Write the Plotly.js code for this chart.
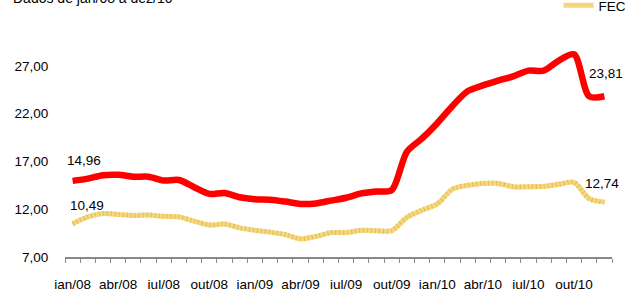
<!DOCTYPE html>
<html>
<head>
<meta charset="utf-8">
<script src="https://cdn.plot.ly/plotly-3.0.1.min.js"></script>
<style>
html,body{margin:0;padding:0;background:#fff;}
#chart{width:628px;height:289px;}
</style>
</head>
<body>
<div id="chart"></div>
<script>
// Month categories (jan/08 .. dez/10)
const months = [
  "jan/08","fev/08","mar/08","abr/08","mai/08","jun/08","jul/08","ago/08","set/08","out/08","nov/08","dez/08",
  "jan/09","fev/09","mar/09","abr/09","mai/09","jun/09","jul/09","ago/09","set/09","out/09","nov/09","dez/09",
  "jan/10","fev/10","mar/10","abr/10","mai/10","jun/10","jul/10","ago/10","set/10","out/10","nov/10","dez/10"
];
// DEC (red) values
const dec = [
  14.96, 15.20, 15.55, 15.60, 15.40, 15.40, 15.00, 15.05, 14.30, 13.60, 13.70, 13.25,
  13.05, 13.00, 12.80, 12.55, 12.60, 12.90, 13.20, 13.65, 13.85, 14.00, 18.00, 19.40,
  21.00, 22.80, 24.35, 24.95, 25.45, 25.90, 26.50, 26.50, 27.55, 28.20, 23.80, 23.81
];
// FEC (yellow) values
const fec = [
  10.49, 11.20, 11.55, 11.45, 11.35, 11.40, 11.25, 11.20, 10.75, 10.35, 10.45, 10.05,
  9.80, 9.60, 9.35, 8.90, 9.15, 9.55, 9.55, 9.80, 9.75, 9.75, 11.15, 11.90,
  12.55, 14.10, 14.50, 14.70, 14.70, 14.35, 14.35, 14.40, 14.60, 14.80, 13.10, 12.74
];
const yTicks = [7, 12, 17, 22, 27];
const subtitle = "Dados de jan/08 a dez/10";

const xIdx = months.map((m, i) => i);
const tickIdx = xIdx.filter(i => i % 3 === 0);
const tickText = tickIdx.map(i => months[i]);
const FONT = "Arial, 'Liberation Sans', sans-serif";
const fmt = v => v.toFixed(2).replace(".", ",");

const traces = [
  {
    x: xIdx, y: dec, name: "DEC", type: "scatter", mode: "lines",
    line: {color: "#ff0000", width: 6.5, shape: "spline", smoothing: 0.8},
    showlegend: false, hoverinfo: "skip"
  },
  {
    x: xIdx, y: fec, name: "FEC", type: "scatter", mode: "lines",
    line: {color: "rgb(245,215,125)", width: 5, shape: "spline", smoothing: 0.8},
    showlegend: true, legendgroup: "fec", hoverinfo: "skip"
  },
  {
    x: xIdx, y: fec, name: "FEC", type: "scatter", mode: "lines",
    line: {color: "rgb(230,188,80)", width: 5, shape: "spline", smoothing: 0.8, dash: "1px,3px"},
    showlegend: false, legendgroup: "fec", hoverinfo: "skip"
  }
];

const last = xIdx.length - 1;
const annotations = [
  {xref: "x", yref: "y", x: 0, y: dec[0], text: fmt(dec[0]), showarrow: false, xshift: 11, yshift: 20,
   font: {family: FONT, size: 13.5, color: "#000"}},
  {xref: "x", yref: "y", x: 0, y: fec[0], text: fmt(fec[0]), showarrow: false, xshift: 14, yshift: 18,
   font: {family: FONT, size: 13.5, color: "#000"}},
  {xref: "x", yref: "y", x: last, y: dec[last], text: fmt(dec[last]), showarrow: false, xshift: 2, yshift: 23,
   font: {family: FONT, size: 13.5, color: "#000"}},
  {xref: "x", yref: "y", x: last, y: fec[last], text: fmt(fec[last]), showarrow: false, xshift: -2, yshift: 19,
   font: {family: FONT, size: 13.5, color: "#000"}},
  {xref: "paper", yref: "paper", x: -0.0995, y: 1.085, xanchor: "left", yanchor: "middle",
   text: subtitle, showarrow: false, font: {family: FONT, size: 14, color: "#000"}}
];

const layout = {
  width: 628, height: 289,
  margin: {l: 65, r: 16, t: 18, b: 31.5, pad: 0, autoexpand: false},
  paper_bgcolor: "#fff", plot_bgcolor: "#fff",
  separators: ",.",
  font: {family: FONT, size: 13.5, color: "#000"},
  showlegend: true,
  legend: {xref: "container", yref: "container", x: 0.8895, y: 0.981, xanchor: "left", yanchor: "middle", orientation: "h",
           bgcolor: "rgba(0,0,0,0)", font: {family: FONT, size: 13.5, color: "#000"}},
  xaxis: {
    range: [-0.5, 35.5], tickmode: "array", tickvals: tickIdx, ticktext: tickText,
    ticks: "outside", ticklen: 14, tickcolor: "rgba(0,0,0,0)",
    showline: true, linecolor: "#888", linewidth: 2, showgrid: false, zeroline: false,
    tickfont: {family: FONT, size: 13.5, color: "#000"},
    minor: {tickmode: "linear", tick0: -0.5, dtick: 1, ticks: "outside", ticklen: 4, tickcolor: "#888", tickwidth: 1, showgrid: false},
    fixedrange: true, automargin: false
  },
  yaxis: {
    range: [7, 32], tickmode: "array", tickvals: yTicks, tickformat: ".2f",
    ticks: "outside", ticklen: 13, tickcolor: "rgba(0,0,0,0)",
    showline: false, showgrid: false, zeroline: false,
    tickfont: {family: FONT, size: 13.5, color: "#000"},
    fixedrange: true, automargin: false
  },
  annotations: annotations
};

Plotly.newPlot("chart", traces, layout, {displayModeBar: false, staticPlot: true});
</script>
</body>
</html>
